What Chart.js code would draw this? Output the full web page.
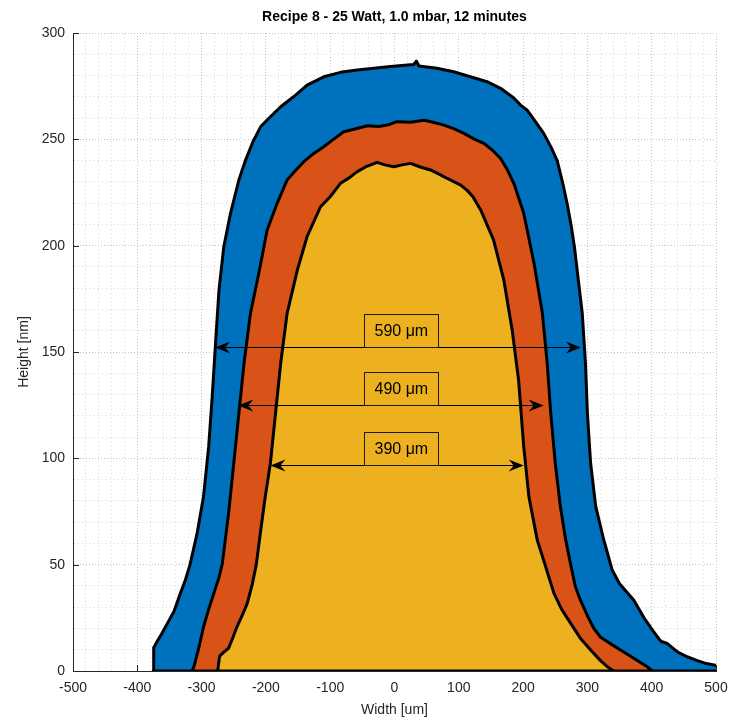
<!DOCTYPE html>
<html>
<head>
<meta charset="utf-8">
<script src="https://cdn.jsdelivr.net/npm/chart.js@4"></script>
<style>
html, body { margin: 0; padding: 0; background: #fff; }
canvas { display: block; }
</style>
</head>
<body>
<canvas id="chart" width="729" height="723"></canvas>
<script>
const titleText = "Recipe 8 - 25 Watt, 1.0 mbar, 12 minutes"

// outer profile (blue)
const outerX = [-375, -374.5, -369, -362, -353, -343, -333, -325, -318, -307, -297, -289, -283.5, -278, -273, -265.5, -255, -242, -232, -220, -208, -195, -177, -157, -136, -110, -84, -58, -32, -6, 20, 30, 34, 38, 66, 92, 118, 144, 165, 186, 196, 206, 220, 232, 244, 253, 262, 269, 275, 280, 285, 292, 297, 300, 305, 313, 325.5, 338.5, 350, 372, 388, 403, 414, 424, 440, 455, 470, 485, 497, 500]
const outerY = [0, 11, 14, 17.5, 22.5, 28, 36.5, 43, 50, 64.7, 82, 105.5, 129, 155.6, 179, 199.5, 215.2, 230.9, 240, 249, 256, 260, 265.3, 270, 275.5, 279.4, 281.5, 282.6, 283.4, 284.2, 285, 285.2, 286.8, 284.5, 283.4, 281.8, 279.4, 277.1, 274, 269.3, 266.1, 263.8, 258, 252.8, 246, 240, 229, 219, 209, 199, 186, 168.2, 144.7, 121.2, 97.7, 77.3, 61.6, 47.5, 41, 33.4, 25, 18.5, 14, 13, 9, 6.7, 5, 3.5, 2.8, 2.5]

// middle profile (orange)
const middleX = [-315, -312, -305, -297, -289, -281, -273, -268, -258, -250, -242, -234, -224, -211, -198, -182.5, -167, -155, -141, -125, -110, -95, -79, -60, -42, -25, -11, 4, 25, 46, 60, 77, 92, 108, 125, 139, 152, 165, 175, 186, 201, 217, 230, 237.5, 243, 250, 258, 266, 274, 281, 289, 300, 310, 320, 335, 351.5, 372, 393, 401]
const middleY = [0, 2, 10, 20.8, 29, 36.5, 44, 50, 74.2, 97.7, 121.2, 144.7, 168.2, 187, 207.4, 219.9, 230.9, 235, 239.5, 243.5, 246.5, 250, 253.6, 255, 256.4, 256, 256.7, 258.3, 258, 259, 258, 256.7, 255, 252.8, 250, 248.1, 245, 241, 236, 229, 215.2, 191.7, 168.2, 144.7, 121.2, 97.7, 77.3, 62, 50, 40, 33.4, 26, 20, 16, 13, 9.9, 6, 2, 0]

// inner profile (yellow)
const innerX = [-275, -272, -265, -258, -251, -245, -237, -229, -221, -215, -208, -201, -193, -185, -177, -167, -151, -136, -115, -100, -84, -70, -58, -45, -27, -15, -1, 12, 25, 40, 56, 70, 82, 103, 113, 122, 134, 154, 170, 183, 193, 201, 209, 222, 232, 248, 260, 274, 290, 305, 320, 331, 341]
const innerY = [0, 7, 9, 10.7, 16, 20.8, 26, 31.8, 41, 50, 66.3, 82, 97.7, 121.2, 144.7, 168.2, 188.6, 204.2, 218.3, 223, 229.3, 232, 234.8, 237, 239.2, 238, 237.1, 238, 238.7, 237, 235.6, 233.5, 231.6, 228.5, 226, 223, 216.8, 202.7, 183.9, 160.3, 136.8, 105.5, 82, 61.6, 52, 36.5, 29, 22.4, 15, 9.9, 5, 2, 0]

const baseX = [-375, 500]
const baseY = [0, 0]

// width markers
const widthLabels = ["590 μm", "490 μm", "390 μm"]
const arrowY = [152.5, 125, 97]
const arrowLeft = [-279, -243, -193]
const arrowRight = [290, 232, 201]
const labelLeft = [-48, -48, -48]

const xTickLabels = [-500, -400, -300, -200, -100, 0, 100, 200, 300, 400, 500]
const yTickLabels = [0, 50, 100, 150, 200, 250, 300]

function toPoints(xs, ys) {
	return xs.map((x, i) => ({ x: x, y: ys[i] }))
}

function arrowHead(ctx, x, y, dir) {
	ctx.beginPath()
	ctx.moveTo(x, y)
	ctx.lineTo(x - dir * 15, y - 6)
	ctx.lineTo(x - dir * 10, y)
	ctx.lineTo(x - dir * 15, y + 6)
	ctx.closePath()
	ctx.fill()
}

const overlay = {
	id: "overlay",
	beforeDatasetsDraw(chart) {
		// matlab style ticks pointing inward
		const ctx = chart.ctx
		const xs = chart.scales.x
		const ys = chart.scales.y
		ctx.save()
		ctx.strokeStyle = "#262626"
		ctx.lineWidth = 1
		ctx.beginPath()
		for (let v of xTickLabels) {
			let px = Math.round(xs.getPixelForValue(v)) + 0.5
			ctx.moveTo(px, ys.bottom)
			ctx.lineTo(px, ys.bottom - 6)
		}
		for (let v of yTickLabels) {
			let py = Math.round(ys.getPixelForValue(v)) + 0.5
			ctx.moveTo(xs.left, py)
			ctx.lineTo(xs.left + 6, py)
		}
		ctx.stroke()
		ctx.restore()
	},
	afterDatasetsDraw(chart) {
		const ctx = chart.ctx
		const xs = chart.scales.x
		const ys = chart.scales.y
		ctx.save()
		ctx.font = "16px 'Liberation Sans', Arial, sans-serif"
		for (let i = 0; i < widthLabels.length; i++) {
			let py = Math.round(ys.getPixelForValue(arrowY[i])) + 0.5
			let x1 = xs.getPixelForValue(arrowLeft[i])
			let x2 = xs.getPixelForValue(arrowRight[i])
			ctx.strokeStyle = "#000"
			ctx.fillStyle = "#000"
			ctx.lineWidth = 1
			ctx.beginPath()
			ctx.moveTo(x1 + 8, py)
			ctx.lineTo(x2 - 8, py)
			ctx.stroke()
			arrowHead(ctx, x1, py, -1)
			arrowHead(ctx, x2, py, 1)

			let bx = Math.round(xs.getPixelForValue(labelLeft[i])) + 0.5
			let tw = ctx.measureText(widthLabels[i]).width
			let bw = Math.round(tw + 20)
			let bh = 33
			ctx.strokeStyle = "#1a1a1a"
			ctx.strokeRect(bx, py - bh, bw, bh)
			ctx.textAlign = "left"
			ctx.textBaseline = "middle"
			ctx.fillText(widthLabels[i], bx + 10, py - bh / 2 + 1)
		}
		ctx.restore()
	},
	afterDraw(chart) {
		const ctx = chart.ctx
		const area = chart.chartArea
		ctx.save()
		ctx.font = "bold 14px 'Liberation Sans', Arial, sans-serif"
		ctx.fillStyle = "#000"
		ctx.textAlign = "center"
		ctx.textBaseline = "middle"
		ctx.fillText(titleText, (area.left + area.right) / 2, 17)
		ctx.restore()
	}
}

const tickFont = { family: "'Liberation Sans', Arial, sans-serif", size: 14 }

const canvas = document.getElementById("chart")
new Chart(canvas, {
	type: "line",
	data: {
		datasets: [{
			data: toPoints(outerX, outerY),
			borderColor: "#000",
			borderWidth: 3,
			backgroundColor: "#0072BD",
			fill: "origin",
			order: 3
		}, {
			data: toPoints(middleX, middleY),
			borderColor: "#000",
			borderWidth: 3,
			backgroundColor: "#D95319",
			fill: "origin",
			order: 2
		}, {
			data: toPoints(innerX, innerY),
			borderColor: "#000",
			borderWidth: 3,
			backgroundColor: "#EDB120",
			fill: "origin",
			order: 1
		}, {
			data: toPoints(baseX, baseY),
			borderColor: "#000",
			borderWidth: 3,
			fill: false,
			order: 0
		}]
	},
	options: {
		responsive: false,
		animation: false,
		events: [],
		layout: { padding: { top: 33, right: 13, left: 0, bottom: 0 } },
		elements: {
			point: { radius: 0 },
			line: { tension: 0, borderJoinStyle: "round", borderCapStyle: "round" }
		},
		plugins: {
			legend: { display: false },
			tooltip: { enabled: false },
			title: { display: false }
		},
		scales: {
			x: {
				type: "linear",
				min: -500,
				max: 500,
				afterFit: (scale) => {
					scale.height = 52
					scale.paddingLeft = 0
					scale.paddingRight = 0
				},
				ticks: {
					stepSize: 20,
					autoSkip: false,
					maxRotation: 0,
					padding: 9,
					color: "#262626",
					font: tickFont,
					callback: (v) => xTickLabels.includes(v) ? String(v) : ""
				},
				grid: {
					drawTicks: false,
					color: (c) => xTickLabels.includes(c.tick.value) ? "#c4c4c4" : "#d6d6d6"
				},
				border: {
					display: true,
					color: "#262626",
					width: 1,
					dash: (c) => xTickLabels.includes(c.tick ? c.tick.value : 0) ? [1, 2] : [1, 3]
				},
				title: {
					display: true,
					text: "Width [um]",
					color: "#262626",
					font: tickFont,
					padding: { top: 0, bottom: 4 }
				}
			},
			y: {
				min: 0,
				max: 300,
				afterFit: (scale) => {
					scale.width = 73
					scale.paddingTop = 0
					scale.paddingBottom = 0
				},
				ticks: {
					stepSize: 10,
					autoSkip: false,
					padding: 8,
					color: "#262626",
					font: tickFont,
					callback: (v) => yTickLabels.includes(v) ? String(v) : ""
				},
				grid: {
					drawTicks: false,
					color: (c) => yTickLabels.includes(c.tick.value) ? "#c4c4c4" : "#d6d6d6"
				},
				border: {
					display: true,
					color: "#262626",
					width: 1,
					dash: (c) => yTickLabels.includes(c.tick ? c.tick.value : 0) ? [1, 2] : [1, 3]
				},
				title: {
					display: true,
					text: "Height [nm]",
					color: "#262626",
					font: tickFont,
					padding: { top: 16, bottom: 0 }
				}
			}
		}
	},
	plugins: [overlay]
})
</script>
</body>
</html>
